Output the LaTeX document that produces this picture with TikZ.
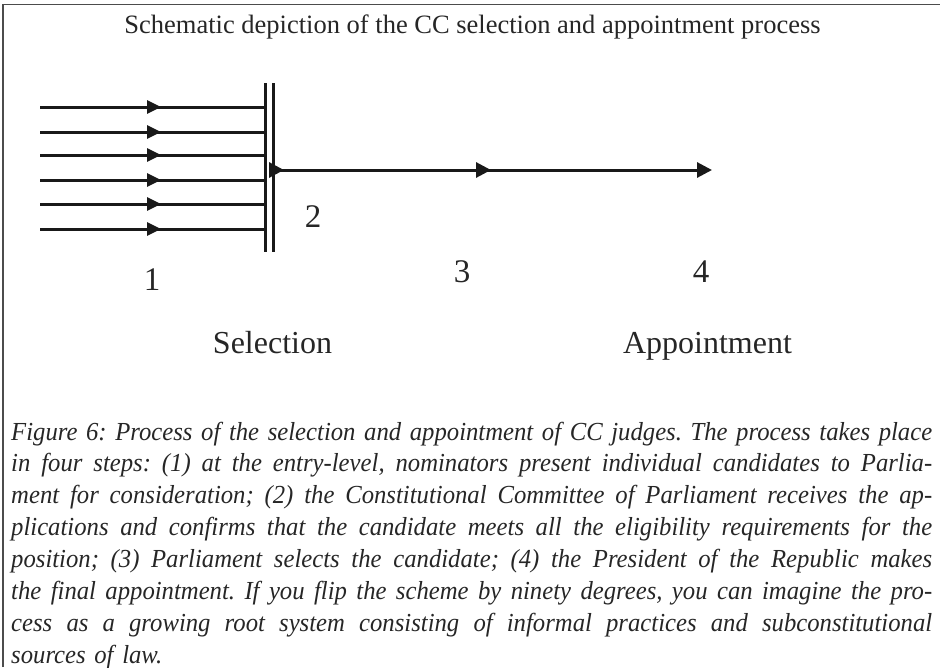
\documentclass[tikz,border=0pt]{standalone}
\usepackage{fontspec}
\setmainfont{Liberation Serif}
\newfontfamily\captionfont[FakeStretch=0.95]{Liberation Serif}
\usetikzlibrary{arrows.meta,decorations.markings}

\tikzset{
    flow/.style={line width=3pt, black!90},
    midtip/.style={postaction={decorate, decoration={markings,
        mark=at position #1 with {\arrow{Triangle[length=14pt,width=13pt]}}}}},
    maintip/.style={postaction={decorate, decoration={markings,
        mark=at position #1 with {\arrow{Triangle[length=15pt,width=15pt]}}}}},
    steplabel/.style={anchor=base, font=\fontsize{33}{40}\selectfont, text=black!85},
    phaselabel/.style={anchor=base, font=\fontsize{32}{38}\selectfont, text=black!85}
}

% one justified caption line
\newcommand{\capline}[1]{\leavevmode{\spaceskip=0.25em plus 1fil minus 0.08em\hbox to 921pt{#1}}\\}

\begin{document}
\begin{tikzpicture}[x=1pt,y=-1pt]

    % Page size
    \useasboundingbox (0,0) rectangle (940,667);

    % Frame: only the left and top edges show
    \draw[black!70, line width=1.5pt] (3,667) -- (3,4.5) -- (940,4.5);

    % Title
    \node[anchor=base, font=\fontsize{26.5}{32}\selectfont, text=black!85] (title) at (472.5,33)
        {Schematic depiction of the CC selection and appointment process};

    % Double bar where the nominations arrive
    \coordinate (barLtop) at (265.5,83);
    \coordinate (barLbot) at (265.5,252);
    \coordinate (barRtop) at (273,83);
    \coordinate (barRbot) at (273,252);
    \draw[flow] (barLtop) -- (barLbot);
    \draw[flow] (barRtop) -- (barRbot);

    % Six incoming candidates, arrowhead half way
    \foreach \i/\y in {1/107,2/132,3/155,4/180,5/204,6/229} {
        \coordinate (in\i) at (40,\y);
        \coordinate (end\i) at (264,\y);
        \draw[flow, midtip=121pt] (in\i) -- (end\i);
    }

    % Main line from the bar to the appointment
    \coordinate (start) at (273,170);
    \coordinate (finish) at (712,170);
    \draw[flow, maintip=11pt, maintip=218pt, -{Triangle[length=15pt,width=15pt]}] (start) -- (finish);

    % Step numbers
    \node[steplabel] (n1) at (152,290) {1};
    \node[steplabel] (n2) at (313,227) {2};
    \node[steplabel] (n3) at (462,282) {3};
    \node[steplabel] (n4) at (701,282) {4};

    % Phase names
    \node[phaselabel] (sel) at (272.5,353) {Selection};
    \node[phaselabel] (app) at (707.5,353) {Appointment};

    % Caption below the scheme
    \node[anchor=base west, inner sep=0pt, text width=921pt, text=black!85,
          font=\captionfont\itshape\frenchspacing\fontsize{26}{31.9}\selectfont] (cap) at (11,440) {%
        \capline{Figure 6: Process of the selection and appointment of CC judges. The process takes place}
        \capline{in four steps: (1) at the entry-level, nominators present individual candidates to Parlia-}
        \capline{ment for consideration; (2) the Constitutional Committee of Parliament receives the ap-}
        \capline{plications and confirms that the candidate meets all the eligibility requirements for the}
        \capline{position; (3) Parliament selects the candidate; (4) the President of the Republic makes}
        \capline{the final appointment. If you flip the scheme by ninety degrees, you can imagine the pro-}
        \capline{cess as a growing root system consisting of informal practices and subconstitutional}
        sources of law.};

\end{tikzpicture}
\end{document}
